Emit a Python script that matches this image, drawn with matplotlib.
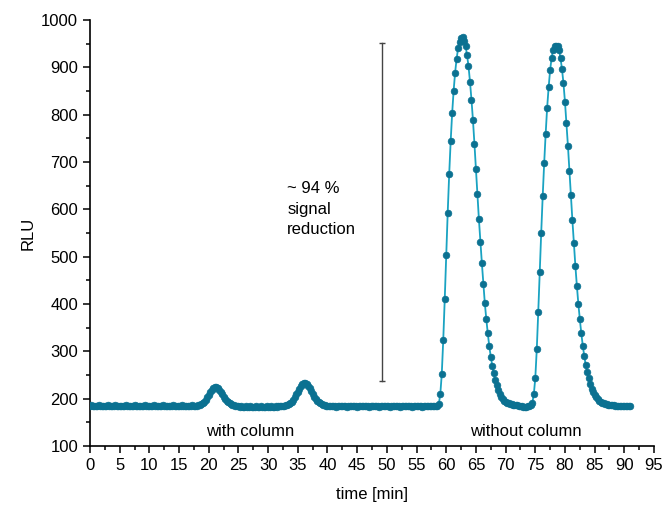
import matplotlib.pyplot as plt
import numpy as np

plt.rcParams['font.family'] = ['Liberation Sans', 'DejaVu Sans']

# detector read every 15 s (0.25 min), from 0 to 91 min
step = 0.25

# baseline before the first column peak (0 - 17.75 min)
base_a = [185, 186, 185, 185, 184, 185, 186, 185, 185, 184, 185, 185,
          186, 185, 184, 185, 185, 186, 185, 185, 184, 185, 185, 185,
          186, 185, 185, 184, 185, 185, 186, 185, 185, 184, 185, 185,
          185, 186, 185, 184, 185, 185, 185, 186, 185, 185, 184, 185,
          185, 186, 185, 185, 184, 185, 185, 185, 186, 185, 184, 185,
          185, 185, 186, 185, 185, 184, 185, 185, 185, 186, 185, 185]
# with column, first peak (18 - 24.5 min)
peak_a = [185, 186, 187, 189, 191, 194, 198, 203, 208, 214, 219, 222, 224,
          224, 222, 219, 214, 209, 204, 199, 195, 192, 190, 188, 187, 186, 185]
# baseline between column peaks (24.75 - 32.75 min)
base_b = [184, 184, 183, 184, 183, 183, 184, 183, 183, 184, 183, 183,
          183, 184, 183, 183, 184, 183, 183, 183, 184, 183, 183, 184,
          183, 183, 184, 183, 184, 184, 184, 185, 185]
# with column, second peak (33 - 39.75 min)
peak_b = [186, 187, 189, 191, 194, 198, 203, 209, 215, 221, 227, 231, 233, 233,
          231, 227, 222, 216, 210, 204, 199, 195, 192, 190, 188, 187, 186, 185]
# baseline up to the uncolumned injection (40 - 58.5 min)
base_c = [185, 184, 184, 185, 184, 184, 183, 184, 184, 185, 184, 184,
          184, 183, 184, 184, 185, 184, 184, 184, 183, 184, 184, 185,
          184, 184, 184, 184, 183, 184, 184, 185, 184, 184, 184, 183,
          184, 184, 185, 184, 184, 184, 183, 184, 184, 184, 185, 184,
          184, 183, 184, 184, 184, 185, 184, 184, 184, 183, 184, 184,
          185, 184, 184, 184, 183, 184, 184, 184, 185, 184, 184, 184,
          184, 185, 185]
# without column, first peak (58.75 - 74.25 min)
peak_c = [189, 209, 252, 324, 410, 503, 593, 674, 744, 803, 851, 889, 918,
          940, 954, 961, 963, 955, 946, 926, 903, 870, 832, 789, 739, 685,
          632, 580, 532, 487, 443, 402, 368, 338, 311, 289, 270, 254, 240,
          229, 218, 210, 204, 199, 196, 193, 191, 190, 189, 188, 187, 187,
          186, 186, 185, 185, 184, 183, 183, 183, 184, 185, 187]
# without column, second peak (74.5 - 91 min)
peak_d = [191, 209, 243, 304, 383, 468, 551, 628, 698, 760, 815, 858, 894,
          920, 937, 944, 946, 944, 937, 919, 896, 866, 827, 782, 734, 681,
          630, 577, 529, 481, 439, 401, 368, 338, 312, 290, 271, 256, 243,
          232, 221, 214, 208, 203, 199, 196, 193, 191, 190, 189, 188, 187,
          187, 186, 186, 186, 185, 185, 185, 185, 185, 184, 184, 184, 184,
          184, 184]

rlu = np.array(base_a + peak_a + base_b + peak_b + base_c + peak_c + peak_d)
t = np.arange(len(rlu)) * step

fs = 12

fig = plt.figure(figsize=(6.65, 5.07), dpi=100)
ax = fig.add_axes([0.1353, 0.1203, 0.8482, 0.8403])

ax.plot(t, rlu, color='#1aa3c2', lw=1.3, zorder=2)
ax.plot(t, rlu, ls='none', marker='o', ms=4.8, mfc='#0b7191', mec='#0b7191',
        mew=0.5, zorder=3)

# signal drop marker
ax.plot([49.1, 49.1], [952, 238], color='#444444', lw=1.0,
        marker='_', ms=5, mew=1.0)
ax.text(33.2, 600, '~ 94 %\nsignal\nreduction', fontsize=fs,
        va='center', ha='left', linespacing=1.45)
ax.text(26.9, 130, 'with column', fontsize=fs, ha='center', va='center')
ax.text(73.4, 130, 'without column', fontsize=fs, ha='center', va='center')

ax.set_xlim(0, 95)
ax.set_ylim(100, 1000)
ax.set_xticks(np.arange(0, 96, 5))
ax.set_xticks(np.arange(2.5, 95, 5), minor=True)
ax.set_yticks(np.arange(100, 1001, 100))
ax.set_yticks(np.arange(150, 1000, 100), minor=True)
ax.tick_params(which='major', length=5, width=1.1, labelsize=fs)
ax.tick_params(which='minor', length=3, width=1.1)
for s in ['top', 'right']:
    ax.spines[s].set_visible(False)
for s in ['left', 'bottom']:
    ax.spines[s].set_linewidth(1.2)

ax.set_xlabel('time [min]', fontsize=fs, labelpad=10)
ax.set_ylabel('RLU', fontsize=fs, labelpad=4)

fig.savefig('out.png', dpi=100)
